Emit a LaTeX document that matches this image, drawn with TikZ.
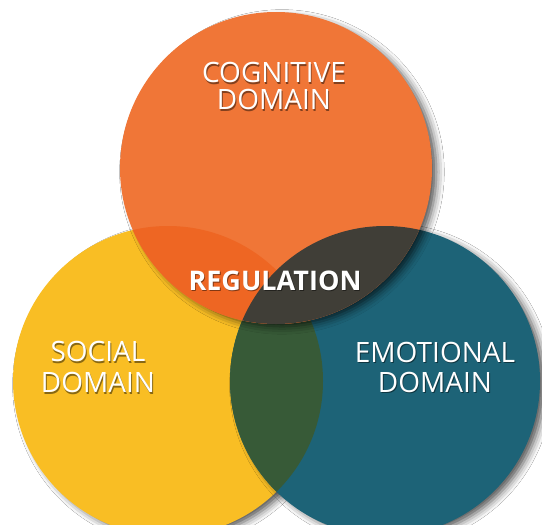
\documentclass[tikz,border=0pt]{standalone}
\usepackage{fontspec}
\setmainfont{Open Sans}
\usetikzlibrary{shadows,shadows.blur,fadings}
\definecolor{cOrange}{HTML}{F07637}
\definecolor{cYellow}{HTML}{F9BE24}
\definecolor{cTeal}{HTML}{1D6377}
\definecolor{cOY}{HTML}{EE6623}
\definecolor{cOT}{HTML}{403E37}
\definecolor{cYT}{HTML}{375A37}
\newcommand\shd[1]{\leavevmode\rlap{\kern0.9pt\raisebox{-1.1pt}{\pgfsetfillopacity{0.45}\textcolor{black}{#1}\pgfsetfillopacity{1}}}#1}
\begin{document}
\begin{tikzpicture}[x=1pt,y=-1pt,
  circshadow/.style={blur shadow={shadow xshift=6pt, shadow yshift=-4pt, shadow blur radius=8pt, shadow scale=0.99, shadow opacity=70}},
  lbl/.style={text=white, align=center, inner sep=0pt}]
\fill[white] (0,0) rectangle (542,525);
\useasboundingbox (0,0) rectangle (542,525);
\coordinate (O) at (276,168);
\coordinate (Y) at (168,381);
\coordinate (T) at (385,381);
\path[circshadow, fill=cYellow] (Y) circle[radius=155pt];
\path[circshadow, fill=cTeal] (T) circle[radius=155pt];
\begin{scope}
  \clip (Y) circle[radius=155pt];
  \fill[cYT] (T) circle[radius=155pt];
\end{scope}
\path[circshadow, fill=cOrange] (O) circle[radius=156pt];
\begin{scope}
  \clip (O) circle[radius=156pt];
  \fill[cOY] (Y) circle[radius=155pt];
  \fill[cOT] (T) circle[radius=155pt];
\end{scope}
\node[lbl, font=\fontsize{28}{27}\selectfont] (cog) at (274,87) {\shd{COGNITIVE}\\\shd{DOMAIN}};
\node[lbl, font=\fontsize{28}{31}\selectfont] (soc) at (98,368) {\shd{SOCIAL}\\\shd{DOMAIN}};
\node[lbl, font=\fontsize{28}{30}\selectfont] (emo) at (435,368) {\shd{EMOTIONAL}\\\shd{DOMAIN}};
\node[lbl, font=\fontsize{27}{30}\selectfont\bfseries] (reg) at (275,281) {\shd{REGULATION}};
\end{tikzpicture}
\end{document}
